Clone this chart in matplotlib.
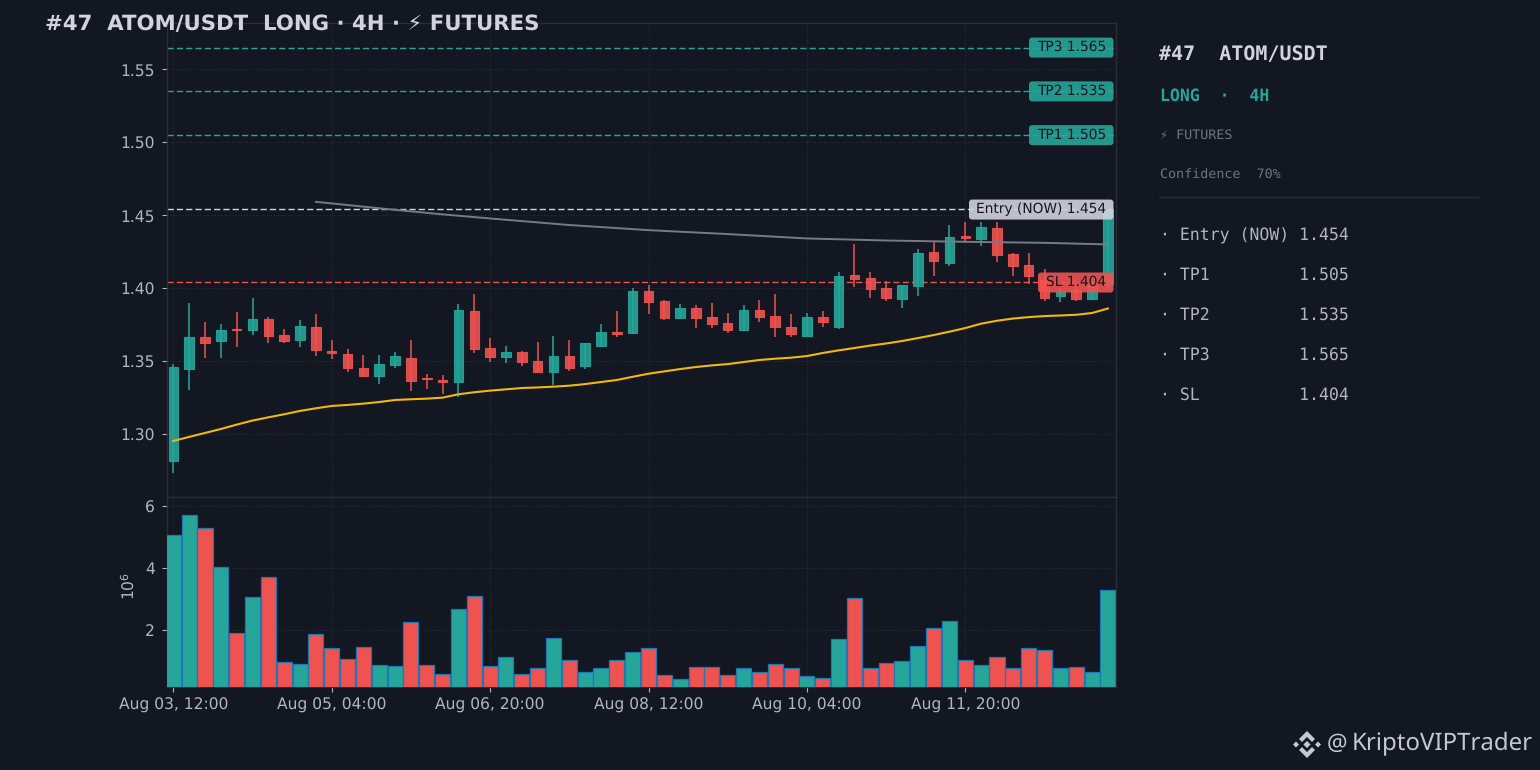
import matplotlib
matplotlib.use("Agg")
import matplotlib.pyplot as plt
from matplotlib.patches import FancyBboxPatch, Polygon
import numpy as np

plt.rcParams["text.hinting"] = "no_hinting"
plt.rcParams["text.hinting_factor"] = 8

# candles, top to bottom
opens = [1.2820, 1.3450, 1.3664, 1.3641, 1.3721, 1.3717, 1.3788, 1.3678, 1.3648, 1.3733,
         1.3571, 1.3548, 1.3452, 1.3402, 1.3477, 1.3520, 1.3386, 1.3372, 1.3361, 1.3842,
         1.3588, 1.3529, 1.3561, 1.3499, 1.3426, 1.3534, 1.3467, 1.3604, 1.3700, 1.3696,
         1.3979, 1.3910, 1.3796, 1.3865, 1.3803, 1.3762, 1.3714, 1.3851, 1.3810, 1.3735,
         1.3673, 1.3801, 1.3735, 1.4091, 1.4068, 1.4002, 1.3926, 1.4015, 1.4248, 1.4173,
         1.4358, 1.4337, 1.4413, 1.4235, 1.4159, 1.4060, 1.3947, 1.3990, 1.3929, 1.4030]
closes = [1.3459, 1.3664, 1.3628, 1.3712, 1.3715, 1.3788, 1.3676, 1.3641, 1.3740, 1.3580,
          1.3559, 1.3457, 1.3402, 1.3479, 1.3534, 1.3367, 1.3379, 1.3361, 1.3849, 1.3587,
          1.3529, 1.3561, 1.3495, 1.3426, 1.3534, 1.3454, 1.3623, 1.3698, 1.3687, 1.3979,
          1.3906, 1.3796, 1.3865, 1.3796, 1.3755, 1.3714, 1.3851, 1.3803, 1.3735, 1.3687,
          1.3803, 1.3769, 1.4084, 1.4063, 1.3995, 1.3933, 1.4022, 1.4241, 1.4187, 1.4351,
          1.4344, 1.4420, 1.4228, 1.4152, 1.4084, 1.3933, 1.3975, 1.3929, 1.4020, 1.4540]
highs = [1.3479, 1.3897, 1.3772, 1.3753, 1.3840, 1.3931, 1.3801, 1.3719, 1.3781, 1.3822,
         1.3644, 1.3582, 1.3546, 1.3541, 1.3562, 1.3644, 1.3411, 1.3404, 1.3890, 1.3959,
         1.3662, 1.3602, 1.3568, 1.3630, 1.3671, 1.3643, 1.3623, 1.3753, 1.3842, 1.4000,
         1.4020, 1.3917, 1.3890, 1.3883, 1.3897, 1.3828, 1.3883, 1.3917, 1.3958, 1.3821,
         1.3828, 1.3842, 1.4109, 1.4301, 1.4109, 1.4047, 1.4022, 1.4267, 1.4315, 1.4431,
         1.4452, 1.4458, 1.4458, 1.4239, 1.4239, 1.4130, 1.4000, 1.4020, 1.4050, 1.4545]
lows = [1.2737, 1.3301, 1.3520, 1.3520, 1.3600, 1.3678, 1.3623, 1.3628, 1.3600, 1.3539,
        1.3514, 1.3429, 1.3399, 1.3347, 1.3457, 1.3294, 1.3313, 1.3278, 1.3253, 1.3559,
        1.3497, 1.3490, 1.3470, 1.3426, 1.3337, 1.3433, 1.3449, 1.3595, 1.3668, 1.3689,
        1.3826, 1.3783, 1.3796, 1.3730, 1.3730, 1.3696, 1.3714, 1.3771, 1.3668, 1.3668,
        1.3673, 1.3735, 1.3721, 1.4006, 1.3931, 1.3915, 1.3867, 1.3949, 1.4082, 1.4150,
        1.4315, 1.4287, 1.4178, 1.4088, 1.4027, 1.3915, 1.3908, 1.3915, 1.3929, 1.4000]
volumes = [5.06, 5.70, 5.31, 4.04, 1.90, 3.07, 3.72, 0.96, 0.90, 1.87,
           1.42, 1.06, 1.45, 0.86, 0.83, 2.26, 0.86, 0.57, 2.68, 3.10,
           0.83, 1.12, 0.57, 0.77, 1.74, 1.03, 0.61, 0.74, 1.03, 1.29,
           1.42, 0.54, 0.41, 0.80, 0.80, 0.54, 0.77, 0.64, 0.90, 0.77,
           0.51, 0.44, 1.68, 3.04, 0.74, 0.93, 0.99, 1.48, 2.06, 2.29,
           1.03, 0.86, 1.12, 0.74, 1.42, 1.35, 0.77, 0.80, 0.61, 3.30]
ema_fast = [1.2954, 1.2982, 1.3009, 1.3036, 1.3066, 1.3094, 1.3116, 1.3137, 1.3160, 1.3178,
            1.3194, 1.3201, 1.3210, 1.3221, 1.3235, 1.3240, 1.3244, 1.3251, 1.3274, 1.3288,
            1.3299, 1.3308, 1.3317, 1.3321, 1.3326, 1.3333, 1.3344, 1.3358, 1.3372, 1.3394,
            1.3415, 1.3431, 1.3447, 1.3461, 1.3472, 1.3481, 1.3495, 1.3509, 1.3518, 1.3525,
            1.3536, 1.3557, 1.3575, 1.3591, 1.3608, 1.3622, 1.3639, 1.3659, 1.3680, 1.3703,
            1.3728, 1.3758, 1.3778, 1.3793, 1.3803, 1.3810, 1.3814, 1.3819, 1.3831, 1.3862]
ema_slow_x = [9, 12, 14, 17, 20, 25, 30, 35, 40, 45, 50, 55, 59]
ema_slow = [1.4593, 1.4560, 1.4538, 1.4507, 1.4479, 1.4434, 1.4399, 1.4372, 1.4342, 1.4328, 1.4319, 1.4312, 1.4301]

tick_pos = [0, 10, 20, 30, 40, 50]
tick_labels = ["Aug 03, 12:00", "Aug 05, 04:00", "Aug 06, 20:00", "Aug 08, 12:00", "Aug 10, 04:00", "Aug 11, 20:00"]

level_names = ["TP3", "TP2", "TP1", "Entry (NOW)", "SL"]
level_values = [1.565, 1.535, 1.505, 1.454, 1.404]
level_lines = [1.5645, 1.535, 1.505, 1.4544, 1.4046]
level_colors = ["#26a69a", "#26a69a", "#26a69a", "#d1d4dc", "#ef5350"]
level_box_x = [1029, 1029, 1029, 969, 1038]

panel_names = ["Entry (NOW)", "TP1", "TP2", "TP3", "SL"]
panel_values = ["1.454", "1.505", "1.535", "1.565", "1.404"]

BG = "#131722"
GREEN = "#26a69a"
RED = "#ef5350"
GRID = "#2a2e39"
TEXT = "#d1d4dc"
TICK = "#b2b5be"
MUTED = "#6f7480"
W, H = 1540, 770

fig = plt.figure(figsize=(15.4, 7.7), dpi=100, facecolor=BG)
ax = fig.add_axes([166.5 / W, 1 - 497.3 / H, (1115.5 - 166.5) / W, (497.3 - 22.5) / H], facecolor=BG)
vol = fig.add_axes([166.5 / W, 1 - 687.3 / H, (1115.5 - 166.5) / W, (687.3 - 497.3) / H], facecolor=BG, sharex=ax)

x = np.arange(len(opens))
up = np.array(closes) >= np.array(opens)
colors = [GREEN if u else RED for u in up]
body_bottom = np.minimum(opens, closes)
body_height = np.abs(np.array(closes) - np.array(opens))

ax.vlines(x, lows, highs, colors=colors, linewidth=1.1, zorder=3)
ax.bar(x, body_height, bottom=body_bottom, width=0.6, color=colors, edgecolor=colors, linewidth=0.8, alpha=0.9, zorder=4)
ax.plot(x, ema_fast, color="#f0b90b", linewidth=1.5, zorder=5)
ax.plot(ema_slow_x, ema_slow, color="#787b86", linewidth=1.4, zorder=5)

for val, col in zip(level_lines, level_colors):
    ax.axhline(val, color=col, linewidth=1.0, dashes=(4.5, 2.2), zorder=2)

vol.bar(x, volumes, width=0.95, color=colors, edgecolor="#1f77b4", linewidth=0.9, zorder=3)

ax.set_xlim(-0.43, 59.48)
ax.set_ylim(1.2568, 1.5822)
ax.set_yticks([1.30, 1.35, 1.40, 1.45, 1.50, 1.55])
ax.set_yticklabels(["1.30", "1.35", "1.40", "1.45", "1.50", "1.55"])
vol.set_ylim(0.13, 6.29)
vol.set_yticks([2, 4, 6])
vol.set_xticks(tick_pos)
vol.set_xticklabels(tick_labels)
ax.tick_params(axis="x", length=0, labelbottom=False)
for a in (ax, vol):
    a.tick_params(axis="y", colors=TICK, labelsize=11.2, length=3.5, width=0.8, pad=5)
    a.grid(True, color=GRID, linestyle=":", linewidth=0.8, zorder=0)
    a.set_axisbelow(True)
    for s in a.spines.values():
        s.set_color(GRID)
        s.set_linewidth(1.0)
vol.tick_params(axis="x", colors=TICK, labelsize=11.2, length=3.5, width=0.8)

# pixel overlay for labels, side panel and watermark
over = fig.add_axes([0, 0, 1, 1], facecolor="none")
over.set_xlim(0, W)
over.set_ylim(H, 0)
over.axis("off")

over.text(45, 24, "#47  ATOM/USDT  LONG \u00b7 4H \u00b7 \u26a1 FUTURES", color=TEXT, fontsize=15.3, fontweight="bold", va="center", ha="left")
over.text(129, 586, "$10^6$", color=TICK, fontsize=11.2, rotation=90, va="center", ha="center")

for name, val, col, bx in zip(level_names, level_values, level_colors, level_box_x):
    py = over.transData.inverted().transform(ax.transData.transform((0, val)))[1]
    over.add_patch(FancyBboxPatch((bx, py - 10), 1113.5 - bx, 20, boxstyle="round,pad=0,rounding_size=3",
                                  facecolor=col, edgecolor="none", alpha=0.9, zorder=6))
    over.text(1106.5, py - 0.5, f"{name} {val:.3f}", color=BG, fontsize=9.95, va="center", ha="right", zorder=7)

mono = "DejaVu Sans Mono"
over.text(1159, 55, "#47  ATOM/USDT", color=TEXT, fontsize=14.4, fontweight="bold", family=mono, va="center")
over.text(1159.5, 96, "LONG  \u00b7  4H", color=GREEN, fontsize=11.9, fontweight="bold", family=mono, va="center")
over.text(1159.5, 135, "\u26a1 FUTURES", color=MUTED, fontsize=9.6, family=mono, va="center")
over.text(1159.5, 175, "Confidence  70%", color=MUTED, fontsize=9.6, family=mono, va="center")
over.plot([1159, 1478], [196.5, 196.5], color=GRID, linewidth=1)
for i, (name, val) in enumerate(zip(panel_names, panel_values)):
    over.text(1159.5, 235.5 + i * 40, f"\u00b7 {name:<11} {val}", color=TICK, fontsize=11.9, family=mono, va="center")

# watermark with the exchange logo
cx, cy = 1307, 744.5
logo_col = "#c4c8d0"
for dx, dy, r in [(0, 0, 3.6), (-11, 0, 3.0), (11, 0, 3.0)]:
    over.add_patch(Polygon([(cx + dx - r, cy + dy), (cx + dx, cy - r + dy), (cx + dx + r, cy + dy), (cx + dx, cy + r + dy)],
                           closed=True, facecolor=logo_col, edgecolor="none"))
for sign in (-1, 1):
    over.add_patch(Polygon([(cx - 8, cy + sign * 5.5), (cx, cy + sign * 13.5), (cx + 8, cy + sign * 5.5),
                            (cx + 5, cy + sign * 2.5), (cx, cy + sign * 7.5), (cx - 5, cy + sign * 2.5)],
                           closed=True, facecolor=logo_col, edgecolor="none"))
over.text(1336.5, 744, "@", color=logo_col, fontsize=16.5, family="Noto Sans", va="center", ha="center")
over.text(1351.5, 744, "KriptoVIPTrader", color=logo_col, fontsize=17.3, family="Noto Sans", va="center", ha="left")

fig.savefig("out.png", dpi=100, facecolor=BG)
